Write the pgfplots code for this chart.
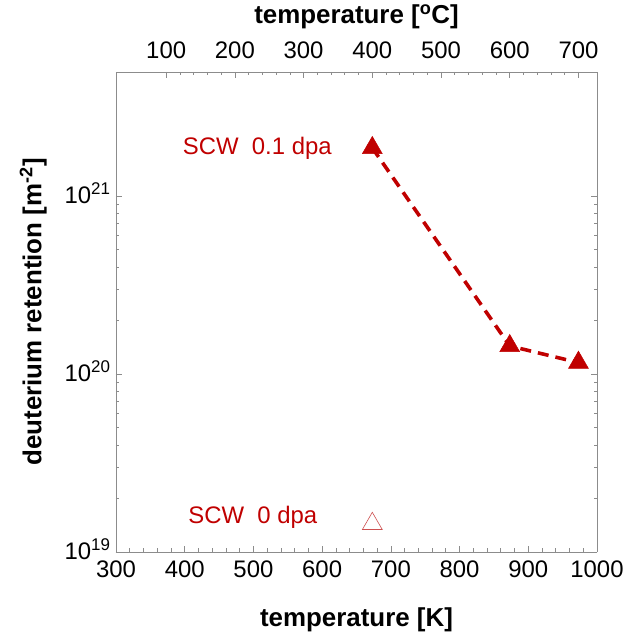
\documentclass[border=0pt]{standalone}
\usepackage{pgfplots}
\pgfplotsset{compat=1.18}
\usepackage{fontspec}
\setmainfont{Liberation Sans}
\definecolor{dred}{RGB}{192,0,0}
\definecolor{lred}{RGB}{205,80,80}
\definecolor{axgray}{RGB}{140,140,140}
\begin{document}
\begin{tikzpicture}[x=1bp,y=1bp]
\path[use as bounding box] (-116,-87) rectangle (525,552);
\begin{axis}[
  at={(0,0)}, anchor=south west,
  scale only axis, width=481bp, height=480bp,
  xmin=300, xmax=1000, ymode=log, ymin=1e19, ymax=5e21,
  axis x line*=bottom, axis y line*=box,
  axis line style={axgray, line width=0.8pt},
  every tick/.style={axgray, line width=0.7pt},
  tick align=inside,
  major tick length=6bp, minor tick length=3.5bp,
  xtick={300,400,...,1000}, minor x tick num=4,
  ytick={1e19,1e20,1e21},
  yticklabels={10\textsuperscript{\fontsize{17}{18}\selectfont 19},10\textsuperscript{\fontsize{17}{18}\selectfont 20},10\textsuperscript{\fontsize{17}{18}\selectfont 21}},
  ytick pos=both, yticklabel pos=left,
  /pgf/number format/assume math mode=true,
  /pgf/number format/set thousands separator={},
  tick label style={font=\fontsize{24}{26}\selectfont, black},
  xticklabel style={yshift=-5bp},
  yticklabel style={xshift=-2bp, yshift=3bp},
  xlabel={\textbf{temperature [K]}},
  xlabel style={at={(axis description cs:0.5,-0.142)}, anchor=center, font=\fontsize{26}{30}\selectfont},
  ylabel={\textbf{deuterium retention [m\textsuperscript{-2}]}},
  ylabel style={at={(axis description cs:-0.172,0.5)}, anchor=center, rotate=0, font=\fontsize{26}{30}\selectfont},
  clip=false,
]
\addplot[dred, line width=3.6pt, dash pattern=on 11bp off 7bp, mark=triangle*, mark size=11.5bp, mark options={solid, fill=dred, draw=dred, line width=0.5pt}]
  coordinates {(673,1.87e21) (873,1.44e20) (973,1.16e20)};
\addplot[only marks, mark=triangle, mark size=11.5bp, mark options={draw=lred, line width=0.6pt}]
  coordinates {(673,1.44e19)};
\node[anchor=east, text=dred, font=\fontsize{24}{26}\selectfont] at (axis cs:619,1.87e21) {SCW\ \ 0.1 dpa};
\node[anchor=east, text=dred, font=\fontsize{24}{26}\selectfont] at (axis cs:598,1.57e19) {SCW\ \ 0 dpa};
\end{axis}
\begin{axis}[
  at={(0,0)}, anchor=south west,
  scale only axis, width=481bp, height=480bp,
  xmin=27, xmax=727, ymin=0, ymax=1,
  axis x line*=top, hide y axis,
  axis line style={axgray, line width=0.8pt},
  every tick/.style={axgray, line width=0.7pt},
  tick align=inside,
  major tick length=6bp, minor tick length=3.5bp,
  xtick={100,200,...,700}, minor x tick num=4,
  /pgf/number format/assume math mode=true,
  tick label style={font=\fontsize{24}{26}\selectfont, black},
  xticklabel style={yshift=10bp},
  xlabel={\textbf{temperature [\textsuperscript{o}C]}},
  xlabel style={at={(axis description cs:0.5,1.115)}, anchor=center, font=\fontsize{26}{30}\selectfont},
]
\addplot[draw=none] coordinates {(100,0.5)};
\end{axis}
\end{tikzpicture}
\end{document}
